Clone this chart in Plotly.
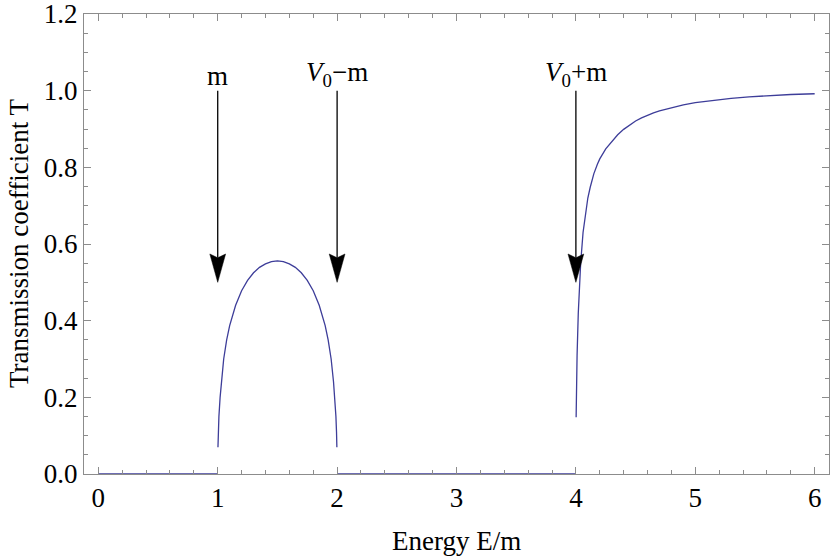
import plotly.graph_objects as go

# ── Data ───────────────────────────────────────────────────────────────────────
# below threshold (T = 0)
ZERO_E1 = [0.0, 1.0]
ZERO_E2 = [2.0, 4.0]

# lobe between m and V0 - m
LOBE_E = [1.002, 1.005, 1.01, 1.02, 1.03, 1.05, 1.075, 1.1, 1.15, 1.2, 1.25, 1.3,
          1.35, 1.4, 1.45, 1.5, 1.55, 1.6, 1.65, 1.7, 1.75, 1.8, 1.85, 1.9,
          1.925, 1.95, 1.97, 1.98, 1.99, 1.995, 1.998]
LOBE_T = [0.07, 0.11, 0.15, 0.20, 0.24, 0.30, 0.35, 0.387, 0.44, 0.478, 0.505, 0.525,
          0.539, 0.548, 0.554, 0.556, 0.554, 0.548, 0.539, 0.525, 0.505, 0.478, 0.44, 0.387,
          0.35, 0.30, 0.24, 0.20, 0.15, 0.11, 0.07]

# above V0 + m
HIGH_E = [4.002, 4.005, 4.01, 4.02, 4.03, 4.04, 4.06, 4.08, 4.1, 4.12, 4.15, 4.18,
          4.2, 4.25, 4.3, 4.35, 4.4, 4.45, 4.5, 4.55, 4.6, 4.65, 4.7, 4.8, 4.9,
          5.0, 5.15, 5.3, 5.45, 5.6, 5.8, 6.0]
HIGH_T = [0.148, 0.23, 0.31, 0.42, 0.49, 0.55, 0.63, 0.68, 0.72, 0.748, 0.783, 0.808,
          0.822, 0.848, 0.868, 0.885, 0.899, 0.911, 0.921, 0.929, 0.936, 0.942, 0.947, 0.956, 0.963,
          0.969, 0.975, 0.980, 0.984, 0.987, 0.990, 0.992]

# threshold markers
ARROW_E = [1, 2, 4]
ARROW_LABELS = ["m", "<i>V</i><sub>0</sub>\u2212m", "<i>V</i><sub>0</sub>+m"]
ARROW_TOP = 1.0
ARROW_TIP = 0.5

X_TICKS = [0, 1, 2, 3, 4, 5, 6]
Y_TICKS = [0.0, 0.2, 0.4, 0.6, 0.8, 1.0, 1.2]

# ── Style ──────────────────────────────────────────────────────────────────────
CURVE = "#3d3d99"
FRAME = "#8c8c8c"
FONT = "Liberation Serif, Times New Roman, serif"
FS = 27
HEAD_HALF_W = 0.066   # in x units
HEAD_LEN = 0.074      # in y units
HEAD_NOTCH = 0.010

fig = go.Figure()
for xs, ys in [(ZERO_E1, [0, 0]), (LOBE_E, LOBE_T), (ZERO_E2, [0, 0]), (HIGH_E, HIGH_T)]:
    fig.add_trace(go.Scatter(
        x=xs, y=ys, mode="lines",
        line=dict(color=CURVE, width=1.3),
        showlegend=False, hoverinfo="skip",
    ))

shapes = []
annotations = []
for e, lab in zip(ARROW_E, ARROW_LABELS):
    base = ARROW_TIP + HEAD_LEN
    shapes.append(dict(type="line", xref="x", yref="y", x0=e, x1=e,
                       y0=ARROW_TOP, y1=base - HEAD_NOTCH,
                       line=dict(color="black", width=1.3)))
    path = (f"M {e},{ARROW_TIP} L {e - HEAD_HALF_W},{base} "
            f"L {e},{base - HEAD_NOTCH} L {e + HEAD_HALF_W},{base} Z")
    shapes.append(dict(type="path", xref="x", yref="y", path=path,
                       fillcolor="black", line=dict(color="black", width=0.5)))
    annotations.append(dict(x=e, y=ARROW_TOP, xref="x", yref="y", text=lab,
                            showarrow=False, yanchor="bottom", yshift=-2,
                            font=dict(family=FONT, size=FS, color="black")))

# axis titles as annotations so they sit exactly where the reference has them
annotations.append(dict(text="Energy E/m", xref="paper", yref="paper", x=0.5, y=0,
                        yanchor="middle", yshift=-67, showarrow=False,
                        font=dict(family=FONT, size=FS, color="black")))
annotations.append(dict(text="Transmission coefficient T", xref="paper", yref="paper",
                        x=0, y=0.5, xanchor="center", xshift=-65, textangle=-90,
                        showarrow=False, font=dict(family=FONT, size=FS, color="black")))

axis_common = dict(
    showline=True, linecolor=FRAME, linewidth=1, mirror="allticks",
    ticks="inside", tickcolor=FRAME, ticklen=7, tickwidth=1,
    showgrid=False, zeroline=False, automargin=False,
    ticklabeloverflow="allow",
    tickfont=dict(family=FONT, size=FS, color="black"),
)

fig.update_layout(
    width=830, height=556,
    paper_bgcolor="white", plot_bgcolor="white",
    margin=dict(l=84, r=1, t=14, b=82),
    font=dict(family=FONT, color="black"),
    xaxis=dict(
        **axis_common,
        range=[-0.12, 6.12], tickvals=X_TICKS,
        minor=dict(dtick=0.2, ticks="inside", ticklen=4, tickcolor=FRAME, tickwidth=1),
    ),
    yaxis=dict(
        **axis_common,
        range=[0, 1.2], tickvals=Y_TICKS, tickformat=".1f",
        minor=dict(dtick=0.05, ticks="inside", ticklen=4, tickcolor=FRAME, tickwidth=1),
    ),
    shapes=shapes,
    annotations=annotations,
)

# drop the default page margin so the figure sits at the window's corner
fig.write_html("out.html", config={"displayModeBar": False},
               post_script="document.body.style.margin='0';")
